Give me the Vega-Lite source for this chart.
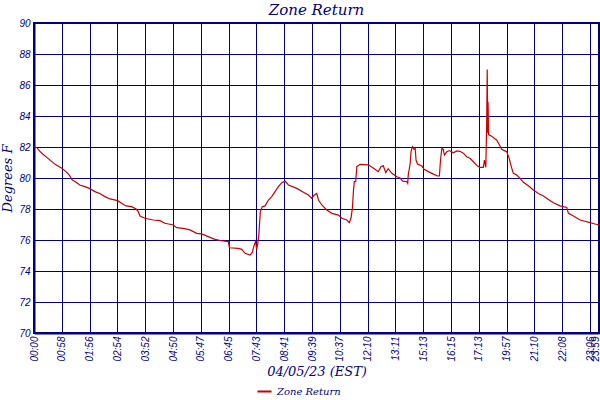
{
  "$schema": "https://vega.github.io/schema/vega-lite/v6.json",
  "width": 565,
  "height": 310,
  "autosize": {"type": "none"},
  "padding": {"left": 34, "top": 23, "right": 1, "bottom": 67},
  "background": "white",
  "title": {
    "text": "Zone Return",
    "anchor": "middle",
    "frame": "group",
    "offset": 0,
    "font": "DejaVu Serif",
    "fontStyle": "italic",
    "fontWeight": "normal",
    "fontSize": 15,
    "color": "#000080"
  },
  "data": {
    "values": [
      {"pos": 0, "temp": 82.0, "series": "Zone Return"},
      {"pos": 0.10, "temp": 81.97, "series": "Zone Return"},
      {"pos": 0.19, "temp": 81.76, "series": "Zone Return"},
      {"pos": 0.31, "temp": 81.55, "series": "Zone Return"},
      {"pos": 0.46, "temp": 81.33, "series": "Zone Return"},
      {"pos": 0.60, "temp": 81.12, "series": "Zone Return"},
      {"pos": 0.76, "temp": 80.88, "series": "Zone Return"},
      {"pos": 0.91, "temp": 80.73, "series": "Zone Return"},
      {"pos": 1.00, "temp": 80.63, "series": "Zone Return"},
      {"pos": 1.15, "temp": 80.41, "series": "Zone Return"},
      {"pos": 1.27, "temp": 80.19, "series": "Zone Return"},
      {"pos": 1.36, "temp": 79.9, "series": "Zone Return"},
      {"pos": 1.54, "temp": 79.7, "series": "Zone Return"},
      {"pos": 1.65, "temp": 79.55, "series": "Zone Return"},
      {"pos": 1.83, "temp": 79.44, "series": "Zone Return"},
      {"pos": 1.99, "temp": 79.33, "series": "Zone Return"},
      {"pos": 2.19, "temp": 79.12, "series": "Zone Return"},
      {"pos": 2.37, "temp": 79.0, "series": "Zone Return"},
      {"pos": 2.55, "temp": 78.8, "series": "Zone Return"},
      {"pos": 2.73, "temp": 78.65, "series": "Zone Return"},
      {"pos": 3.01, "temp": 78.54, "series": "Zone Return"},
      {"pos": 3.15, "temp": 78.37, "series": "Zone Return"},
      {"pos": 3.31, "temp": 78.2, "series": "Zone Return"},
      {"pos": 3.51, "temp": 78.15, "series": "Zone Return"},
      {"pos": 3.67, "temp": 78.0, "series": "Zone Return"},
      {"pos": 3.75, "temp": 77.83, "series": "Zone Return"},
      {"pos": 3.81, "temp": 77.55, "series": "Zone Return"},
      {"pos": 3.99, "temp": 77.4, "series": "Zone Return"},
      {"pos": 4.29, "temp": 77.29, "series": "Zone Return"},
      {"pos": 4.53, "temp": 77.25, "series": "Zone Return"},
      {"pos": 4.71, "temp": 77.08, "series": "Zone Return"},
      {"pos": 5.01, "temp": 76.97, "series": "Zone Return"},
      {"pos": 5.13, "temp": 76.8, "series": "Zone Return"},
      {"pos": 5.37, "temp": 76.75, "series": "Zone Return"},
      {"pos": 5.61, "temp": 76.65, "series": "Zone Return"},
      {"pos": 5.85, "temp": 76.43, "series": "Zone Return"},
      {"pos": 6.03, "temp": 76.39, "series": "Zone Return"},
      {"pos": 6.33, "temp": 76.17, "series": "Zone Return"},
      {"pos": 6.51, "temp": 76.04, "series": "Zone Return"},
      {"pos": 6.75, "temp": 75.95, "series": "Zone Return"},
      {"pos": 6.99, "temp": 75.9, "series": "Zone Return"},
      {"pos": 7.03, "temp": 75.5, "series": "Zone Return"},
      {"pos": 7.35, "temp": 75.46, "series": "Zone Return"},
      {"pos": 7.47, "temp": 75.4, "series": "Zone Return"},
      {"pos": 7.59, "temp": 75.14, "series": "Zone Return"},
      {"pos": 7.77, "temp": 75.03, "series": "Zone Return"},
      {"pos": 7.85, "temp": 75.2, "series": "Zone Return"},
      {"pos": 7.92, "temp": 75.68, "series": "Zone Return"},
      {"pos": 7.97, "temp": 75.9, "series": "Zone Return"},
      {"pos": 8.01, "temp": 75.4, "series": "Zone Return"},
      {"pos": 8.05, "temp": 75.8, "series": "Zone Return"},
      {"pos": 8.09, "temp": 76.43, "series": "Zone Return"},
      {"pos": 8.14, "temp": 77.83, "series": "Zone Return"},
      {"pos": 8.21, "temp": 78.15, "series": "Zone Return"},
      {"pos": 8.31, "temp": 78.2, "series": "Zone Return"},
      {"pos": 8.43, "temp": 78.58, "series": "Zone Return"},
      {"pos": 8.55, "temp": 78.8, "series": "Zone Return"},
      {"pos": 8.67, "temp": 79.12, "series": "Zone Return"},
      {"pos": 8.79, "temp": 79.44, "series": "Zone Return"},
      {"pos": 8.91, "temp": 79.7, "series": "Zone Return"},
      {"pos": 9.03, "temp": 79.8, "series": "Zone Return"},
      {"pos": 9.15, "temp": 79.55, "series": "Zone Return"},
      {"pos": 9.45, "temp": 79.33, "series": "Zone Return"},
      {"pos": 9.69, "temp": 79.08, "series": "Zone Return"},
      {"pos": 9.87, "temp": 78.9, "series": "Zone Return"},
      {"pos": 9.99, "temp": 78.69, "series": "Zone Return"},
      {"pos": 10.08, "temp": 78.9, "series": "Zone Return"},
      {"pos": 10.17, "temp": 79.0, "series": "Zone Return"},
      {"pos": 10.23, "temp": 78.58, "series": "Zone Return"},
      {"pos": 10.35, "temp": 78.26, "series": "Zone Return"},
      {"pos": 10.53, "temp": 77.94, "series": "Zone Return"},
      {"pos": 10.71, "temp": 77.72, "series": "Zone Return"},
      {"pos": 10.95, "temp": 77.61, "series": "Zone Return"},
      {"pos": 11.07, "temp": 77.4, "series": "Zone Return"},
      {"pos": 11.25, "temp": 77.29, "series": "Zone Return"},
      {"pos": 11.34, "temp": 77.12, "series": "Zone Return"},
      {"pos": 11.40, "temp": 77.4, "series": "Zone Return"},
      {"pos": 11.45, "temp": 78.04, "series": "Zone Return"},
      {"pos": 11.49, "temp": 79.2, "series": "Zone Return"},
      {"pos": 11.52, "temp": 79.76, "series": "Zone Return"},
      {"pos": 11.57, "temp": 79.76, "series": "Zone Return"},
      {"pos": 11.61, "temp": 80.73, "series": "Zone Return"},
      {"pos": 11.73, "temp": 80.88, "series": "Zone Return"},
      {"pos": 12.03, "temp": 80.85, "series": "Zone Return"},
      {"pos": 12.21, "temp": 80.63, "series": "Zone Return"},
      {"pos": 12.38, "temp": 80.41, "series": "Zone Return"},
      {"pos": 12.48, "temp": 80.73, "series": "Zone Return"},
      {"pos": 12.56, "temp": 80.8, "series": "Zone Return"},
      {"pos": 12.65, "temp": 80.35, "series": "Zone Return"},
      {"pos": 12.74, "temp": 80.6, "series": "Zone Return"},
      {"pos": 12.87, "temp": 80.3, "series": "Zone Return"},
      {"pos": 13.05, "temp": 80.08, "series": "Zone Return"},
      {"pos": 13.17, "temp": 80.0, "series": "Zone Return"},
      {"pos": 13.26, "temp": 79.8, "series": "Zone Return"},
      {"pos": 13.41, "temp": 79.76, "series": "Zone Return"},
      {"pos": 13.44, "temp": 79.66, "series": "Zone Return"},
      {"pos": 13.46, "temp": 80.2, "series": "Zone Return"},
      {"pos": 13.53, "temp": 80.95, "series": "Zone Return"},
      {"pos": 13.56, "temp": 81.7, "series": "Zone Return"},
      {"pos": 13.61, "temp": 82.02, "series": "Zone Return"},
      {"pos": 13.67, "temp": 81.85, "series": "Zone Return"},
      {"pos": 13.71, "temp": 81.9, "series": "Zone Return"},
      {"pos": 13.74, "temp": 81.16, "series": "Zone Return"},
      {"pos": 13.79, "temp": 80.9, "series": "Zone Return"},
      {"pos": 13.95, "temp": 80.77, "series": "Zone Return"},
      {"pos": 14.03, "temp": 80.56, "series": "Zone Return"},
      {"pos": 14.18, "temp": 80.41, "series": "Zone Return"},
      {"pos": 14.31, "temp": 80.3, "series": "Zone Return"},
      {"pos": 14.51, "temp": 80.13, "series": "Zone Return"},
      {"pos": 14.58, "temp": 80.13, "series": "Zone Return"},
      {"pos": 14.62, "temp": 81.16, "series": "Zone Return"},
      {"pos": 14.67, "temp": 81.92, "series": "Zone Return"},
      {"pos": 14.72, "temp": 81.85, "series": "Zone Return"},
      {"pos": 14.76, "temp": 81.48, "series": "Zone Return"},
      {"pos": 14.81, "temp": 81.6, "series": "Zone Return"},
      {"pos": 14.85, "temp": 81.7, "series": "Zone Return"},
      {"pos": 14.94, "temp": 81.77, "series": "Zone Return"},
      {"pos": 15.08, "temp": 81.63, "series": "Zone Return"},
      {"pos": 15.21, "temp": 81.75, "series": "Zone Return"},
      {"pos": 15.32, "temp": 81.72, "series": "Zone Return"},
      {"pos": 15.44, "temp": 81.6, "series": "Zone Return"},
      {"pos": 15.56, "temp": 81.37, "series": "Zone Return"},
      {"pos": 15.68, "temp": 81.27, "series": "Zone Return"},
      {"pos": 15.80, "temp": 81.05, "series": "Zone Return"},
      {"pos": 15.95, "temp": 80.77, "series": "Zone Return"},
      {"pos": 16.04, "temp": 80.69, "series": "Zone Return"},
      {"pos": 16.16, "temp": 80.69, "series": "Zone Return"},
      {"pos": 16.20, "temp": 81.16, "series": "Zone Return"},
      {"pos": 16.25, "temp": 80.69, "series": "Zone Return"},
      {"pos": 16.28, "temp": 83.5, "series": "Zone Return"},
      {"pos": 16.30, "temp": 87.0, "series": "Zone Return"},
      {"pos": 16.32, "temp": 82.9, "series": "Zone Return"},
      {"pos": 16.33, "temp": 84.9, "series": "Zone Return"},
      {"pos": 16.35, "temp": 82.8, "series": "Zone Return"},
      {"pos": 16.46, "temp": 82.7, "series": "Zone Return"},
      {"pos": 16.56, "temp": 82.55, "series": "Zone Return"},
      {"pos": 16.64, "temp": 82.45, "series": "Zone Return"},
      {"pos": 16.74, "temp": 82.13, "series": "Zone Return"},
      {"pos": 16.82, "temp": 81.85, "series": "Zone Return"},
      {"pos": 16.94, "temp": 81.75, "series": "Zone Return"},
      {"pos": 17.00, "temp": 81.7, "series": "Zone Return"},
      {"pos": 17.09, "temp": 81.27, "series": "Zone Return"},
      {"pos": 17.16, "temp": 80.77, "series": "Zone Return"},
      {"pos": 17.24, "temp": 80.3, "series": "Zone Return"},
      {"pos": 17.36, "temp": 80.19, "series": "Zone Return"},
      {"pos": 17.48, "temp": 79.98, "series": "Zone Return"},
      {"pos": 17.60, "temp": 79.72, "series": "Zone Return"},
      {"pos": 17.78, "temp": 79.5, "series": "Zone Return"},
      {"pos": 17.96, "temp": 79.23, "series": "Zone Return"},
      {"pos": 18.14, "temp": 79.0, "series": "Zone Return"},
      {"pos": 18.32, "temp": 78.84, "series": "Zone Return"},
      {"pos": 18.50, "temp": 78.62, "series": "Zone Return"},
      {"pos": 18.68, "temp": 78.4, "series": "Zone Return"},
      {"pos": 18.92, "temp": 78.2, "series": "Zone Return"},
      {"pos": 19.16, "temp": 78.1, "series": "Zone Return"},
      {"pos": 19.22, "temp": 77.72, "series": "Zone Return"},
      {"pos": 19.40, "temp": 77.55, "series": "Zone Return"},
      {"pos": 19.64, "temp": 77.29, "series": "Zone Return"},
      {"pos": 20.00, "temp": 77.12, "series": "Zone Return"},
      {"pos": 20.18, "temp": 77.03, "series": "Zone Return"},
      {"pos": 20.32, "temp": 76.97, "series": "Zone Return"}
    ]
  },
  "mark": {"type": "line", "strokeWidth": 1.2, "clip": true},
  "encoding": {
    "x": {
      "field": "pos",
      "type": "quantitative",
      "scale": {"domain": [0, 20.32], "nice": false, "zero": false},
      "axis": {
        "title": "04/05/23 (EST)",
        "values": [0, 1, 2, 3, 4, 5, 6, 7, 8, 9, 10, 11, 12, 13, 14, 15, 16, 17, 18, 19, 20, 20.32],
        "labelExpr": "datum.value > 20.1 ? '23:59' : ['00:00','00:58','01:56','02:54','03:52','04:50','05:47','06:45','07:43','08:41','09:39','10:37','12:10','13:11','15:13','16:15','17:13','19:57','21:10','22:08','23:06'][round(datum.value)]",
        "labelAngle": -90,
        "labelOverlap": false,
        "labelBound": false,
        "labelFlush": false,
        "labelOffset": {"condition": {"test": "datum.value > 20.1", "value": -4}, "value": 0},
        "labelPadding": 3,
        "titlePadding": 4
      }
    },
    "y": {
      "field": "temp",
      "type": "quantitative",
      "scale": {"domain": [70, 90], "nice": false, "zero": false},
      "axis": {
        "title": "Degrees F",
        "values": [70, 72, 74, 76, 78, 80, 82, 84, 86, 88, 90],
        "labelOverlap": false,
        "labelPadding": 4,
        "titlePadding": 4
      }
    },
    "color": {
      "field": "series",
      "type": "nominal",
      "scale": {"range": ["#CC0000"]},
      "legend": {
        "title": null,
        "orient": "none",
        "legendX": 222,
        "legendY": 360,
        "symbolType": "stroke",
        "symbolSize": 200,
        "symbolStrokeWidth": 2,
        "labelFont": "DejaVu Serif",
        "labelFontStyle": "italic",
        "labelFontSize": 10,
        "labelColor": "#000080"
      }
    }
  },
  "config": {
    "view": {"stroke": "#000080", "strokeWidth": 2},
    "axis": {
      "grid": true,
      "gridColor": "#000080",
      "gridOpacity": 1,
      "gridWidth": 1,
      "domainColor": "#000080",
      "domainWidth": 2,
      "ticks": false,
      "labelFont": "Liberation Sans",
      "labelFontStyle": "italic",
      "labelFontSize": 10,
      "labelColor": "#000080",
      "titleFont": "DejaVu Serif",
      "titleFontStyle": "italic",
      "titleFontWeight": "normal",
      "titleFontSize": 13,
      "titleColor": "#000080"
    }
  }
}
